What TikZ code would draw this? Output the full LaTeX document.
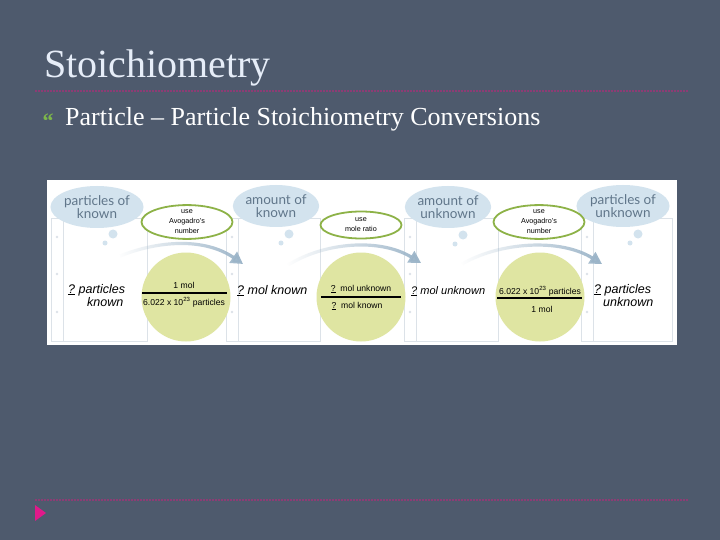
\documentclass[tikz,border=0pt]{standalone}
\usepackage{fontspec}
\setmainfont{Liberation Serif}
\setsansfont{Liberation Sans}
\newfontfamily\bubblefont{Lato}
\usetikzlibrary{shapes.geometric,arrows.meta,fadings}

\definecolor{slidebg}{HTML}{4E5A6D}
\definecolor{titletext}{HTML}{E6EDF8}
\definecolor{rulepink}{HTML}{8C3C74}
\definecolor{markpink}{HTML}{E0198A}
\definecolor{bulletgreen}{HTML}{7DB84A}
\definecolor{bubbleblue}{HTML}{D3E3EE}
\definecolor{bubbletext}{HTML}{60768A}
\definecolor{ringgreen}{HTML}{8DB247}
\definecolor{factoryellow}{HTML}{DFE5A2}
\definecolor{pagegray}{HTML}{DCE2E8}
\definecolor{arrowblue}{HTML}{9BB4C8}

\newcommand\pagetop{218}
\newcommand\pagebottom{341}
\newcommand\notepage[2]{
  \draw[pageline] (#1, \pagetop) rectangle (#2, \pagebottom) ;
  \draw[pageline] (#1 + 12, \pagetop) -- (#1 + 12, \pagebottom) ;
  \foreach \dy in {237, 274, 312}
    \fill[pagegray] (#1 + 6, \dy) circle (1.4) ;
}
\newcommand\thoughtdots[2]{
  \fill[bubbleblue] (#1, #2) circle (4.5) ;
  \fill[bubbleblue] (#1 - 8, #2 + 9) circle (2.5) ;
}

\begin{document}
\begin{tikzpicture}[x=1pt, y=-1pt,
    bubble/.style={ellipse, fill=bubbleblue, text=bubbletext, align=center,
      minimum width=86pt, minimum height=42pt, inner sep=0pt,
      font=\bubblefont\fontsize{13.5}{12.5}\selectfont},
    ring/.style={ellipse, draw=ringgreen, line width=1.8pt, fill=white, align=center,
      minimum width=91pt, minimum height=33pt, inner sep=0pt,
      font=\sffamily\fontsize{7.2}{10}\selectfont},
    factor/.style={circle, fill=factoryellow, minimum size=89pt, inner sep=0pt},
    factortext/.style={font=\sffamily\fontsize{8.6}{9}\selectfont, inner sep=0pt},
    hand/.style={font=\sffamily\itshape\fontsize{12.5}{12}\selectfont, inner sep=0pt, anchor=base west},
    pageline/.style={draw=pagegray, line width=0.8pt},
    convarrow/.style={arrowblue, line width=3.2pt, -{Triangle[length=12pt,width=13pt]}, path fading=west},
    fracbar/.style={line width=1.1pt},
    slide rule/.style={rulepink, line width=2pt, dash pattern=on 2pt off 1pt}]
  \useasboundingbox (0,0) rectangle (720,540);
  \fill[slidebg] (0,0) rectangle (720,540);
  % slide heading
  \node[anchor=base west, inner sep=0pt, text=titletext,
    font=\fontsize{40}{40}\selectfont] (title) at (44,78) {Stoichiometry};
  \draw[slide rule] (35,91) -- (688,91);
  \node[anchor=base, inner sep=0pt, text=bulletgreen,
    font=\bfseries\fontsize{22}{22}\selectfont] (bullet) at (48,129) {“};
  \node[anchor=base west, inner sep=0pt, text=white,
    font=\fontsize{26}{26}\selectfont] (subtitle) at (65,126)
    {Particle – Particle Stoichiometry Conversions};
  \draw[slide rule] (35,500) -- (688,500);
  \fill[markpink] (35,505) -- (46,513) -- (35,521) -- cycle;

  % conversion strip
  \fill[white] (47,180) rectangle (677,345);
  \notepage{51}{147}
  \notepage{226}{320}
  \notepage{404}{498}
  \notepage{581}{672}

  \coordinate (s1) at (120,256);
  \coordinate (t1) at (243,264);
  \coordinate (s2) at (288,265);
  \coordinate (t2) at (421,263);
  \coordinate (s3) at (462,264);
  \coordinate (t3) at (602,264);
  \draw[convarrow] (s1) .. controls (160,240) and (205,238) .. (t1);
  \draw[convarrow] (s2) .. controls (325,242) and (380,238) .. (t2);
  \draw[convarrow] (s3) .. controls (500,242) and (560,238) .. (t3);

  \node[bubble] (pk) at (97,207) {particles of\\known};
  \node[bubble] (ak) at (276,206) {amount of\\known};
  \node[bubble] (au) at (448,207) {amount of\\unknown};
  \node[bubble] (pu) at (623,206) {particles of\\unknown};
  \thoughtdots{113}{234}
  \thoughtdots{289}{234}
  \thoughtdots{463}{235}
  \thoughtdots{638}{234}

  \node[factor] (c1) at (186,297) {};
  \node[factor] (c2) at (361,297) {};
  \node[factor] (c3) at (540,297) {};

  \node[ring] (r1) at (187,222) {use\\Avogadro's\\number};
  \node[ring, minimum width=81pt, minimum height=27pt] (r2) at (361,225) {use\\mole ratio};
  \node[ring] (r3) at (539,222) {use\\Avogadro's\\number};

  % factors
  \node[factortext] (c1num) at (184,285) {1 mol};
  \draw[fracbar] ([xshift=1pt,yshift=4pt]c1.west) -- ([xshift=-4pt,yshift=4pt]c1.east);
  \node[factortext] (c1den) at (184,302) {6.022 x 10\textsuperscript{23} particles};
  \node[factortext] (c2num) at (361,289) {\underline{?}\ \ mol unknown};
  \draw[fracbar] ([xshift=5pt]c2.west) -- ([xshift=-5pt]c2.east);
  \node[factortext] (c2den) at (357,306) {\underline{?}\ \ mol known};
  \node[factortext] (c3num) at (540,291) {6.022 x 10\textsuperscript{23} particles};
  \draw[fracbar] ([xshift=2pt,yshift=-1pt]c3.west) -- ([xshift=-3pt,yshift=-1pt]c3.east);
  \node[factortext] (c3den) at (542,309) {1 mol};

  % handwritten amounts
  \node[hand] (h1) at (68,293) {\underline{?} particles};
  \node[hand] (h1b) at (87,306) {known};
  \node[hand] (h2) at (237,294) {\underline{?} mol known};
  \node[hand, font=\sffamily\itshape\fontsize{11}{11}\selectfont] (h3) at (411,294) {\underline{?} mol unknown};
  \node[hand] (h4) at (594,293) {\underline{?} particles};
  \node[hand] (h4b) at (603,306) {unknown};
\end{tikzpicture}
\end{document}
